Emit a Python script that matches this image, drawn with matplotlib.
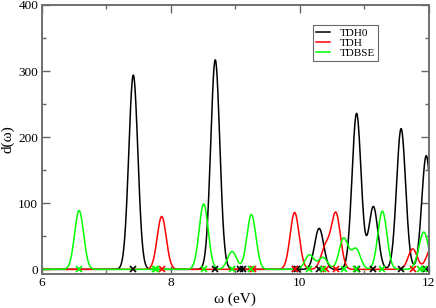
import numpy as np
import matplotlib
matplotlib.use('Agg')
import matplotlib.pyplot as plt

# transitions (energy in eV, peak height)
tdh0_e = [7.42, 8.69, 9.08, 9.12, 9.93, 9.96, 10.30, 10.88, 11.14, 11.57, 11.96]
tdh0_h = [294, 317, 0, 0, 0, 0, 62, 236, 95, 213, 172]

tdh_e = [7.86, 9.27, 9.92, 10.40, 10.56, 11.75, 12.03]
tdh_h = [80, 0, 86, 34, 84, 31, 30]

tdbse_e = [6.58, 7.75, 7.77, 8.51, 8.95, 9.25, 10.15, 10.36, 10.68, 10.87, 11.28, 11.86, 11.93]
tdbse_h = [89, 0, 0, 99, 27, 83, 22, 18, 47, 31, 88, 10, 50]

sigma = 0.07  # gaussian broadening (eV)

plt.rcParams['font.family'] = ['Liberation Serif', 'DejaVu Serif']

fig = plt.figure(figsize=(4.36, 3.08), dpi=100)
ax = fig.add_axes([0.0956, 0.1104, 0.888, 0.8734])

w = np.linspace(5.8, 12.3, 1500)


def spectrum(ens, hs):
    d = np.zeros_like(w)
    for e, h in zip(ens, hs):
        d += h * np.exp(-(w - e) ** 2 / (2 * sigma ** 2))
    return d


series = [('TDH0', tdh0_e, tdh0_h, 'black'),
          ('TDH', tdh_e, tdh_h, '#ff0000'),
          ('TDBSE', tdbse_e, tdbse_h, '#00ff00')]

for name, ens, hs, col in series:
    ax.plot(w, spectrum(ens, hs), color=col, lw=1.1, label=name)
for name, ens, hs, col in series:
    ax.plot(ens, np.zeros(len(ens)), ls='none', marker='x', ms=4.5,
            mew=1.2, color=col)

ax.set_xlim(6, 12)
ax.set_ylim(-7, 400)
ax.set_xticks([6, 8, 10, 12])
ax.set_xticks([7, 9, 11], minor=True)
ax.set_yticks([0, 100, 200, 300, 400])
ax.set_yticks([50, 150, 250, 350], minor=True)
ax.tick_params(which='both', labelsize=9.5, colors='#666666', labelcolor='black',
               top=True, right=True, direction='in', pad=2.5)
ax.tick_params(which='major', length=5.5, width=1)
ax.tick_params(which='minor', length=3, width=1)
for s in ax.spines.values():
    s.set_color('#707070')
    s.set_linewidth(1.4)

ax.set_xlabel('ω (eV)', fontsize=11, labelpad=2)
ax.set_ylabel('d(ω)', fontsize=11)
ax.yaxis.set_label_coords(-0.07, 0.5)

leg = ax.legend(loc='upper right', bbox_to_anchor=(0.8686, 0.925), fontsize=8,
                frameon=True, fancybox=False, handlelength=1.3,
                borderpad=0.25, labelspacing=0.05, handletextpad=0.9,
                borderaxespad=0)
leg.get_frame().set_edgecolor('#444444')
leg.get_frame().set_linewidth(0.8)

fig.savefig('out.png', dpi=100)
